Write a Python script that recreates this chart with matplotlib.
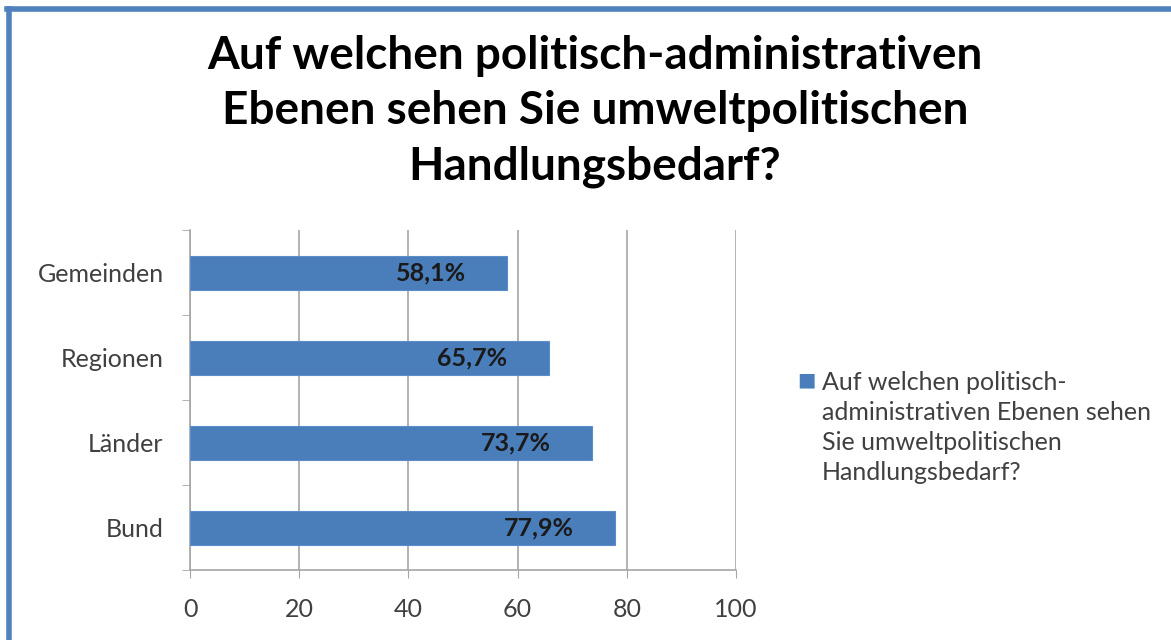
import matplotlib.pyplot as plt
from matplotlib.lines import Line2D

# data
categories = ['Bund', 'Länder', 'Regionen', 'Gemeinden']
values = [77.9, 73.7, 65.7, 58.1]
value_labels = ['77,9%', '73,7%', '65,7%', '58,1%']
x_ticks = [0, 20, 40, 60, 80, 100]
series_name = 'Auf welchen politisch-\nadministrativen Ebenen sehen\nSie umweltpolitischen\nHandlungsbedarf?'
title = 'Auf welchen politisch-administrativen\nEbenen sehen Sie umweltpolitischen\nHandlungsbedarf?'

plt.rcParams['font.family'] = ['Lato', 'DejaVu Sans']
text_col = '#404040'
bar_col = '#4a7ebb'
grid_col = '#a6a6a6'

fig = plt.figure(figsize=(11.71, 6.4), dpi=100)
ax = fig.add_axes([0.1623, 0.109, 0.4662, 0.5316])

ypos = range(len(categories))
bars = ax.barh(ypos, values, height=0.4, color=bar_col, edgecolor='#5b8ccc', linewidth=0.8, zorder=3)

for b, lab in zip(bars, value_labels):
    ax.annotate(lab, (b.get_width(), b.get_y() + b.get_height() / 2),
                xytext=(-30, 0), textcoords='offset points',
                ha='right', va='center', fontsize=18, fontweight='bold', color='#1a1a1a', zorder=4)

ax.set_xlim(0, 100)
ax.set_ylim(-0.5, len(categories) - 0.5)
ax.set_xticks(x_ticks)
ax.set_yticks(list(ypos))
ax.set_yticklabels(categories)
ax.set_yticks([i + 0.5 for i in range(-1, len(categories))], minor=True)
ax.tick_params(axis='y', which='major', length=0, pad=19, labelsize=18, labelcolor=text_col)
ax.tick_params(axis='y', which='minor', length=6, color=grid_col, direction='out')
ax.tick_params(axis='x', length=6, color=grid_col, labelsize=18, labelcolor=text_col, pad=14)
ax.xaxis.grid(True, color=grid_col, linewidth=1.2, zorder=0)
for s in ['top', 'right']:
    ax.spines[s].set_visible(False)
for s in ['left', 'bottom']:
    ax.spines[s].set_color(grid_col)
    ax.spines[s].set_linewidth(1.2)

# legend
fig.text(0.681, 0.397, '■', fontsize=14, color=bar_col, va='baseline', family='DejaVu Sans')
fig.text(0.702, 0.42, series_name, fontsize=18, color=text_col, va='top', linespacing=1.36)

fig.suptitle(title, x=0.508, y=0.945, fontsize=33, fontweight='bold', color='#000000', linespacing=1.39)

# frame on left and top
bc = '#4f81bd'
fig.add_artist(Line2D([0.0081, 0.0081], [0, 0.9867], transform=fig.transFigure, color=bc, linewidth=4))
fig.add_artist(Line2D([0.0064, 1.0], [0.9867, 0.9867], transform=fig.transFigure, color=bc, linewidth=4))

fig.savefig('out.png', dpi=100)
